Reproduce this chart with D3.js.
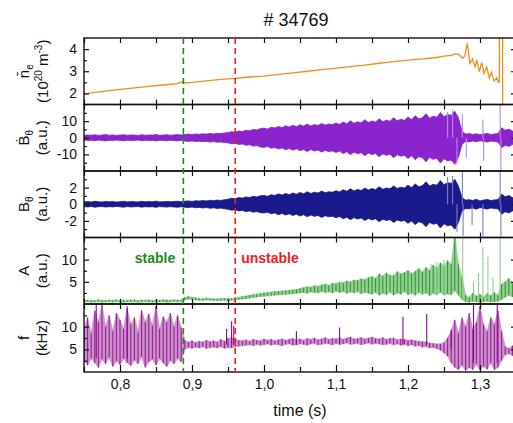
<!DOCTYPE html>
<html>
<head>
<meta charset="utf-8">
<script src="https://cdn.jsdelivr.net/npm/d3@7"></script>
<style>
body { margin: 0; background: #fff; }
svg { display: block; font-family: "Liberation Sans", Arial, sans-serif; }
</style>
</head>
<body>
<div id="chart"></div>
<script>
//data
var shotTitle = "# 34769";
var tStart = 0.75, tStep = 0.005;   // sample grid of the envelope signals

// line averaged density (10^20 m^-3)
var neT = [0.75, 0.76, 0.78, 0.80, 0.82, 0.84, 0.86, 0.88, 0.885, 0.888, 0.90, 0.92, 0.94, 0.96, 0.98, 1.00,
           1.02, 1.04, 1.06, 1.08, 1.10, 1.12, 1.14, 1.16, 1.18, 1.20, 1.22, 1.24, 1.25, 1.26, 1.265, 1.270,
           1.276, 1.279, 1.2824, 1.2861, 1.2895, 1.2931, 1.2954, 1.2990, 1.3023, 1.3056, 1.3093, 1.3129, 1.3162,
           1.3194, 1.3232, 1.3255, 1.3268, 1.3270, 1.3313, 1.3315];
var neV = [1.98, 2.02, 2.10, 2.18, 2.25, 2.32, 2.38, 2.44, 2.52, 2.47, 2.50, 2.57, 2.63, 2.68, 2.74, 2.78,
           2.86, 2.93, 3.00, 3.07, 3.14, 3.21, 3.28, 3.36, 3.43, 3.50, 3.56, 3.62, 3.68, 3.72, 3.78, 3.77,
           3.58, 3.70, 4.26, 3.35, 3.55, 3.20, 3.50, 2.97, 3.40, 2.90, 3.20, 2.70, 2.95,
           2.55, 2.70, 2.50, 2.52, 5.00, 5.00, 0.00];

// B-dot theta envelope amplitude (a.u.)
var bdotAmp = [1.4, 1.7, 1.5, 1.8, 1.4, 1.6, 1.9, 1.5, 1.7, 1.4, 1.6, 1.8, 1.5, 1.7, 1.6, 1.4, 1.8, 1.5, 1.7, 1.6,
               1.9, 1.5, 1.6, 1.8, 1.5, 1.7, 1.9, 1.6,
               2.0, 2.2, 1.9, 2.3, 2.1, 2.4, 2.2, 2.6, 2.3, 2.7, 2.5, 2.9,
               3.1, 3.6, 3.3, 4.0, 3.8, 4.5, 4.2, 5.0, 4.7, 5.5,
               5.8, 5.2, 6.3, 5.9, 6.8, 6.1, 7.2, 6.4, 7.5, 6.6, 7.8, 7.0, 8.2, 7.1, 8.0, 7.4, 8.6, 7.6, 8.3, 7.9,
               8.8, 8.0, 9.5, 8.4, 10.2, 8.7, 9.6, 9.0, 10.8, 9.2, 10.1, 9.5, 11.4, 9.7, 10.6, 9.9, 12.0, 10.2, 11.1, 10.5,
               12.5, 10.8, 13.2, 11.4, 12.0, 14.5, 11.8, 13.0, 12.4, 15.2, 12.6, 14.0, 13.5, 16.0,
               12.0, 4.0,
               2.2, 2.5, 2.0, 2.4, 1.8, 2.2, 2.6, 2.0, 2.3, 2.5,
               6.0, 4.5, 5.2, 4.0, 4.8];
var bdotSpikes = [[1.255, 0, 15.5], [1.262, 0, 17], [1.268, 0, -16], [1.2755, 0, 14], [1.281, 0, -12],
                  [1.304, 0, 11], [1.305, 0, -14], [1.328, 0, 21], [1.329, 0, -21]];

// B theta envelope amplitude (a.u.)
var bAmp = [0.28, 0.33, 0.26, 0.35, 0.30, 0.27, 0.34, 0.29, 0.32, 0.26, 0.31, 0.36, 0.28, 0.33, 0.30, 0.27, 0.35, 0.29, 0.32, 0.30,
            0.37, 0.28, 0.31, 0.34, 0.29, 0.33, 0.36, 0.30,
            0.36, 0.40, 0.34, 0.42, 0.38, 0.45, 0.40, 0.48, 0.43, 0.50, 0.46, 0.55,
            0.60, 0.72, 0.65, 0.80, 0.74, 0.88, 0.80, 0.95, 0.88, 1.02,
            1.05, 0.95, 1.15, 1.05, 1.25, 1.10, 1.30, 1.15, 1.35, 1.20, 1.42, 1.25, 1.50, 1.30, 1.45, 1.35, 1.58, 1.38, 1.50, 1.45,
            1.62, 1.48, 1.75, 1.55, 1.85, 1.60, 1.78, 1.65, 1.95, 1.70, 1.88, 1.75, 2.10, 1.80, 1.95, 1.85, 2.20, 1.90, 2.05, 1.95,
            2.30, 2.00, 2.45, 2.10, 2.25, 2.70, 2.20, 2.40, 2.30, 2.85, 2.35, 2.60, 2.50, 3.00,
            2.20, 0.80,
            0.50, 0.55, 0.45, 0.60, 0.40, 0.50, 0.58, 0.45, 0.52, 0.55,
            1.20, 0.90, 1.05, 0.80, 0.95];
var bSpikes = [[1.255, 0, 3.3], [1.262, 0, 3.4], [1.268, 0, -3.3], [1.2755, 0, 4.2], [1.2765, 0, -3.8],
               [1.289, 0, -2.5], [1.304, 0, -3.8], [1.328, 0, 4.2], [1.329, 0, -4.2]];

// mode amplitude A (a.u.), lower and upper envelope
var aLo = [0.40, 0.50, 0.40, 0.45, 0.50, 0.40, 0.45, 0.50, 0.40, 0.50, 0.45, 0.40, 0.50, 0.45, 0.50, 0.40, 0.45, 0.50, 0.45, 0.40,
           0.50, 0.45, 0.50, 0.40, 0.45, 0.50, 0.45, 0.50,
           0.90, 1.10, 1.00, 0.90, 0.85, 0.80, 0.90, 0.85, 0.80, 0.75, 0.80, 0.85, 0.75, 0.80,
           0.90, 1.00, 1.10, 1.20, 1.30, 1.50, 1.55, 1.70, 1.75, 1.85, 1.90, 2.00, 2.05, 2.10, 2.20, 2.25, 2.30, 2.40,
           2.50, 2.60, 2.40, 2.70, 2.60, 2.50, 2.80, 2.60, 2.70, 2.50, 2.90, 2.60, 2.80, 2.40, 2.70, 2.50, 2.80, 2.30, 2.60, 2.40,
           2.20, 2.60, 2.00, 2.40, 2.10, 2.70, 2.00, 2.50, 2.20, 2.80, 2.10, 2.40, 2.00, 2.60, 2.20, 2.50, 1.90, 2.40, 2.10, 2.60,
           2.00, 2.30, 2.10,
           3.00, 2.00, 1.00,
           0.50, 0.40, 0.60, 0.50, 0.40, 0.50, 0.60, 0.45, 0.50, 0.60,
           1.00, 1.50, 2.00, 1.60, 1.80];
var aHi = [0.80, 0.90, 0.85, 0.80, 0.95, 0.85, 0.80, 0.90, 0.85, 0.95, 0.80, 0.90, 0.85, 0.90, 0.95, 0.80, 0.90, 0.85, 0.95, 0.80,
           0.90, 0.85, 0.95, 0.90, 0.85, 0.95, 0.90, 0.90,
           1.50, 1.70, 1.50, 1.40, 1.30, 1.20, 1.35, 1.25, 1.20, 1.15, 1.25, 1.30, 1.20, 1.25,
           1.40, 1.50, 1.70, 1.80, 2.00, 2.10, 2.25, 2.40, 2.50, 2.60, 2.70, 2.80, 2.85, 2.95, 3.00, 3.10, 3.20, 3.30,
           3.50, 3.70, 3.90, 3.80, 4.10, 4.00, 4.30, 4.50, 4.20, 4.70, 4.60, 4.90, 4.80, 5.20, 5.00, 5.40, 5.30, 5.70, 5.50, 6.00,
           6.20, 5.80, 6.80, 6.30, 7.00, 6.50, 6.40, 7.30, 6.80, 7.10, 7.60, 6.90, 7.40, 8.00, 7.20, 8.30, 7.60, 8.80, 8.10, 9.30,
           8.50, 9.80, 9.00,
           15.50, 9.00, 6.00,
           2.00, 1.50, 2.50, 1.80, 2.20, 1.60, 2.40, 1.90, 2.60, 2.00,
           4.50, 5.00, 5.80, 4.60, 5.50];
var aSpikes = [[1.232, 2, 9.0], [1.240, 2, 9.5], [1.250, 2, 10.0], [1.276, 1, 15.5], [1.291, 1, 5.0], [1.298, 1, 7.0],
               [1.304, 1, 12.8], [1.311, 1, 10.6], [1.318, 1, 6.0], [1.328, 1, 15.5]];

// mode frequency f (kHz), lower and upper envelope
var fLo = [2.5, 1.5, 3.0, 2.0, 1.0, 2.8, 1.8, 3.2, 1.2, 2.4, 1.6, 3.0, 2.0, 1.4, 2.6, 1.8, 3.4, 1.0, 2.2, 2.8,
           1.5, 3.0, 2.0, 1.2, 2.5, 1.8, 3.0, 2.2,
           5.0, 5.4, 5.2, 5.5, 5.3, 5.6, 5.2, 5.4, 5.5, 5.3, 5.6, 5.2, 5.4,
           5.3, 5.6, 5.7,
           5.8, 5.9, 6.0, 5.8, 6.1, 5.9, 6.0, 6.2, 5.9, 6.1, 6.0, 5.8, 6.1, 6.2, 5.9, 6.0, 6.2, 6.1, 5.9, 6.2,
           6.3, 6.0, 6.1, 6.3, 6.2, 6.0, 6.3, 6.1, 6.2, 6.4, 6.1, 6.2, 6.3, 6.0, 6.2, 6.4, 6.1, 6.3, 6.2, 6.0,
           6.1, 6.3, 6.0, 6.2, 5.9, 6.1, 5.8, 6.0, 5.7, 5.8, 5.5, 5.6, 5.3, 5.4, 5.2,
           4.8, 4.2, 3.5, 2.0, 1.0, 0.5, 1.5, 0.3, 1.0, 0.5, 1.8, 0.4, 1.2, 0.6, 2.0, 0.5, 1.0, 2.5,
           3.8, 4.0, 3.6, 3.9];
var fHi = [9.5, 12.0, 8.5, 13.5, 11.0, 14.8, 10.0, 12.5, 9.0, 13.0, 11.5, 9.5, 14.0, 10.5, 12.0, 8.8, 13.6, 11.0, 12.8, 10.2,
           14.5, 9.5, 12.2, 11.0, 13.0, 10.0, 12.5, 9.8,
           7.0, 6.6, 6.9, 6.5, 6.8, 6.6, 7.0, 6.7, 6.9, 6.6, 7.2, 6.8, 7.4,
           7.6, 7.2, 7.0,
           6.9, 7.1, 6.8, 7.2, 7.0, 6.9, 7.3, 7.0, 7.2, 6.9, 7.1, 7.3, 7.0, 7.2, 7.4, 7.1, 7.3, 7.0, 7.4, 7.2,
           7.5, 7.1, 7.3, 7.6, 7.2, 7.4, 7.3, 7.6, 7.2, 7.5, 7.7, 7.3, 7.4, 7.6, 7.3, 7.5, 7.7, 7.4, 7.3, 7.6,
           7.2, 7.4, 7.5, 7.1, 7.3, 7.2, 7.0, 7.1, 6.9, 6.8, 6.7, 6.6, 6.4, 6.3, 6.2,
           6.2, 6.5, 7.5, 9.0, 11.5, 8.5, 12.0, 10.0, 13.0, 9.5, 11.0, 14.5, 10.5, 9.0, 12.0, 10.5, 13.5, 9.0,
           5.6, 5.2, 5.8, 5.4];
var fSpikes = [[0.767, 3, 15.0], [0.810, 3, 14.5], [0.948, 6, 9.5], [0.955, 6, 11.2], [0.958, 6, 10.2],
               [1.045, 6, 9.0], [1.105, 6, 9.8], [1.193, 6, 12.2], [1.226, 6, 12.8], [1.260, 5, 9.4],
               [1.291, 2, 14.8], [1.324, 2, 15.0]];

// axes
var timeTicks = [0.8, 0.9, 1.0, 1.1, 1.2, 1.3],
    timeMinor = [0.75, 0.85, 0.95, 1.05, 1.15, 1.25, 1.35];
var neTicks = [2, 3, 4], neMinor = [2.5, 3.5];
var bdotTicks = [-10, 0, 10], bdotMinor = [-15, -5, 5, 15];
var bTicks = [-2, 0, 2], bMinor = [-3, -1, 1, 3];
var aTicks = [5, 10], aMinor = [2.5, 7.5, 12.5];
var fTicks = [5, 10], fMinor = [2.5, 7.5, 12.5];
var markTimes = [0.888, 0.96];
var markLabels = ["stable", "unstable"];

//layout
var W = 513, H = 423;
var bounds = [38, 104.5, 171, 237.5, 304, 372];
var area = { l: 84, r: 516 };
var color = {
  ne: "#ef8f1c",
  bdot: "#8a24cc", bdotL: "#b98ae6",
  b: "#1a1a8c", bL: "#7d7dc4",
  a: "#1f8c1f", aL: "#93cf93",
  f: "#8b0a8b", fL: "#cc8fcc",
  stable: "#238a23", unstable: "#f21d1d"
};

var tGrid = bdotAmp.map(function(d, i) { return +(tStart + i * tStep).toFixed(4); });

var svg = d3.select("#chart").append("svg").attr("width", W).attr("height", H);
var x = d3.scaleLinear().domain([0.75, 1.35]).range([area.l, area.r]);

var panels = [
  { dom: [1.5, 4.5], ticks: neTicks, minor: neMinor },
  { dom: [-20, 20], ticks: bdotTicks, minor: bdotMinor },
  { dom: [-4, 4], ticks: bTicks, minor: bMinor },
  { dom: [0, 15], ticks: aTicks, minor: aMinor },
  { dom: [0, 15], ticks: fTicks, minor: fMinor }
];

panels.forEach(function(p, k) {
  var top = bounds[k], bot = bounds[k + 1];
  p.top = top; p.bot = bot;
  p.y = d3.scaleLinear().domain(p.dom).range([bot, top]);
  svg.append("clipPath").attr("id", "clip" + k)
     .append("rect").attr("x", area.l).attr("y", top).attr("width", area.r - area.l).attr("height", bot - top);
  p.g = svg.append("g").attr("clip-path", "url(#clip" + k + ")");
});

// band signal: envelope area, optional dark strokes per sample
function drawBand(p, lo, hi, fill, strokes) {
  var y = p.y;
  var env = d3.area().x(function(d, i) { return x(tGrid[i]); })
                     .y0(function(d, i) { return y(lo[i]); })
                     .y1(function(d, i) { return y(hi[i]); });
  p.g.append("path").datum(lo).attr("d", env).attr("fill", fill).attr("stroke", fill).attr("stroke-width", 0.8);
  if (!strokes) return;
  p.g.selectAll(null).data(lo).enter().append("line")
     .attr("x1", function(d, i) { return x(tGrid[i]); }).attr("x2", function(d, i) { return x(tGrid[i]); })
     .attr("y1", function(d, i) { return y(lo[i]); }).attr("y2", function(d, i) { return y(hi[i]); })
     .attr("stroke", strokes).attr("stroke-width", 0.9);
}
function drawSpikes(p, spikes, c) {
  p.g.selectAll(null).data(spikes).enter().append("line")
     .attr("x1", function(d) { return x(d[0]); }).attr("x2", function(d) { return x(d[0]); })
     .attr("y1", function(d) { return p.y(d[1]); }).attr("y2", function(d) { return p.y(d[2]); })
     .attr("stroke", c).attr("stroke-width", 1.1);
}

// panel 1: density
var neLine = d3.line().x(function(d, i) { return x(neT[i]); }).y(function(d) { return panels[0].y(d); });
panels[0].g.append("path").datum(neV).attr("d", neLine).attr("fill", "none")
         .attr("stroke", color.ne).attr("stroke-width", 1.3);

// panel 2, 3: magnetic signals
drawBand(panels[1], bdotAmp.map(function(d) { return -d; }), bdotAmp, color.bdot);
drawSpikes(panels[1], bdotSpikes, color.bdotL);
drawBand(panels[2], bAmp.map(function(d) { return -d; }), bAmp, color.b);
drawSpikes(panels[2], bSpikes, color.bL);

// panel 4, 5: amplitude, frequency
drawBand(panels[3], aLo, aHi, color.aL, color.a);
drawSpikes(panels[3], aSpikes, color.aL);
drawBand(panels[4], fLo, fHi, color.fL, color.f);
drawSpikes(panels[4], fSpikes, color.f);

// frames and ticks
var fmtTime = function(d) { return d3.format(".1f")(d).replace(".", ","); };
panels.forEach(function(p, k) {
  var last = k == panels.length - 1;
  svg.append("g").attr("transform", "translate(" + area.l + ",0)")
     .call(d3.axisLeft(p.y).tickValues(p.ticks).tickSize(-5).tickPadding(7).tickFormat(function(d) { return String(d); }));
  svg.append("g").attr("transform", "translate(" + area.l + ",0)")
     .call(d3.axisLeft(p.y).tickValues(p.minor).tickSize(-3).tickFormat(""));
  svg.append("g").attr("transform", "translate(" + area.r + ",0)")
     .call(d3.axisRight(p.y).tickValues(p.ticks).tickSize(-5).tickFormat(""));
  svg.append("g").attr("transform", "translate(" + area.r + ",0)")
     .call(d3.axisRight(p.y).tickValues(p.minor).tickSize(-3).tickFormat(""));
  svg.append("g").attr("transform", "translate(0," + p.top + ")")
     .call(d3.axisTop(x).tickValues(timeTicks.concat(timeMinor)).tickSize(-5).tickFormat(""));
  svg.append("g").attr("transform", "translate(0," + p.bot + ")")
     .call(d3.axisBottom(x).tickValues(timeTicks).tickSize(last ? -7 : -5).tickPadding(7).tickFormat(last ? fmtTime : ""));
  svg.append("g").attr("transform", "translate(0," + p.bot + ")")
     .call(d3.axisBottom(x).tickValues(timeMinor).tickSize(-5).tickFormat(""));
  svg.append("rect").attr("x", area.l).attr("y", p.top).attr("width", area.r - area.l).attr("height", p.bot - p.top)
     .attr("fill", "none").attr("stroke", "#111").attr("stroke-width", 1.4);
});
svg.selectAll(".domain").remove();
svg.selectAll(".tick line").attr("stroke", "#111").attr("stroke-width", 1.2);
svg.selectAll(".tick text").attr("font-size", 14).attr("fill", "#111").attr("font-family", "Liberation Sans, Arial, sans-serif");

// stable / unstable markers
var markColors = [color.stable, color.unstable];
svg.selectAll(null).data(markTimes).enter().append("line")
   .attr("x1", function(d) { return x(d); }).attr("x2", function(d) { return x(d); })
   .attr("y1", bounds[0]).attr("y2", bounds[5])
   .attr("stroke", function(d, i) { return markColors[i]; }).attr("stroke-width", 1.6).attr("stroke-dasharray", "6 4");
svg.append("text").attr("x", 155).attr("y", 263).attr("text-anchor", "middle").attr("font-size", 14)
   .attr("font-weight", "bold").attr("fill", color.stable).text(markLabels[0]);
svg.append("text").attr("x", 270).attr("y", 263).attr("text-anchor", "middle").attr("font-size", 14)
   .attr("font-weight", "bold").attr("fill", color.unstable).text(markLabels[1]);

// titles
svg.append("text").attr("x", 296).attr("y", 26).attr("text-anchor", "middle").attr("font-size", 18)
   .attr("fill", "#111").text(shotTitle);
svg.append("text").attr("x", 300).attr("y", 416).attr("text-anchor", "middle").attr("font-size", 16)
   .attr("fill", "#111").text("time (s)");

function yTitle(k, xb, parts) {
  var p = panels[k], cy = (p.top + p.bot) / 2;
  var t = svg.append("text").attr("transform", "translate(" + xb + "," + cy + ") rotate(-90)")
             .attr("text-anchor", "middle").attr("font-size", 15).attr("fill", "#111");
  var prev = 0;
  parts.forEach(function(s) {
    var shift = s[1] == "sub" ? 4 : (s[1] == "sup" ? -6 : 0);
    t.append("tspan").attr("dy", shift - prev).attr("font-size", s[1] ? 10 : 15).text(s[0]);
    prev = shift;
  });
}
yTitle(0, 29, [["n\u0304", ""], ["e", "sub"]]);
yTitle(0, 48, [["(10", ""], ["20", "sup"], [" m", ""], ["-3", "sup"], [")", ""]]);
yTitle(1, 29, [["B\u0307", ""], ["\u03b8", "sub"]]);
yTitle(1, 47, [["(a.u.)", ""]]);
yTitle(2, 29, [["B", ""], ["\u03b8", "sub"]]);
yTitle(2, 47, [["(a.u.)", ""]]);
yTitle(3, 29, [["A", ""]]);
yTitle(3, 47, [["(a.u.)", ""]]);
yTitle(4, 29, [["f", ""]]);
yTitle(4, 47, [["(kHz)", ""]]);
</script>
</body>
</html>
